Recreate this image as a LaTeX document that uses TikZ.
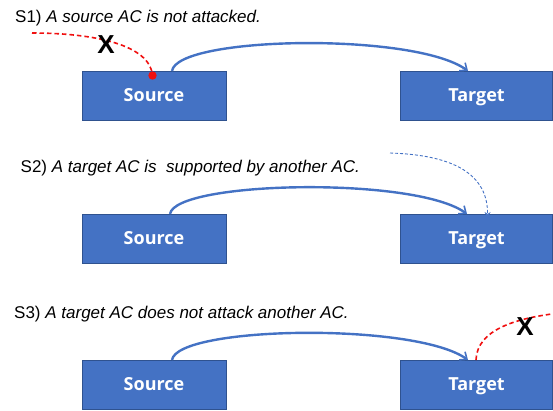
\documentclass[tikz,border=0pt]{standalone}
\usepackage{fontspec}
\setmainfont{Liberation Sans}
\newfontfamily\boxfont{Open Sans}
\usetikzlibrary{arrows.meta}
\definecolor{boxblue}{HTML}{4472C4}
\definecolor{boxedge}{HTML}{2F528F}
\definecolor{attred}{HTML}{F01010}
\tikzset{
  acbox/.style={draw=boxedge, line width=0.8pt, fill=boxblue, text=white, font=\boxfont\bfseries\fontsize{18}{21}\selectfont, minimum height=49pt, inner sep=0pt, text height=13pt, text depth=2pt},
  srcbox/.style={acbox, minimum width=144pt},
  tgtbox/.style={acbox, minimum width=152pt},
  rel/.style={draw=boxblue, line width=2.4pt, -{Straight Barb[length=6pt,width=10pt,line width=1.6pt]}},
  support/.style={draw=boxblue, line width=0.9pt, dash pattern=on 3pt off 2pt, -{Stealth[length=6pt,width=6pt]}},
  attack/.style={draw=attred, line width=1.6pt, dash pattern=on 4.5pt off 3pt},
  cross/.style={font=\bfseries\fontsize{26}{28}\selectfont, inner sep=0pt},
  caption/.style={font=\fontsize{17}{20}\selectfont, anchor=base west, inner sep=0pt}
}
\begin{document}
\begin{tikzpicture}[x=1pt,y=-1pt]
\useasboundingbox (0,0) rectangle (553,410);
\clip (0,0) rectangle (553,410);
% S1
\node[caption] (t1) at (15,22) {S1) \textit{A source AC is not attacked.}};
\node[srcbox] (s1) at (154,95.5) {Source};
\node[tgtbox] (g1) at (476.5,95.5) {Target};
\coordinate (s1o) at (172,71);
\coordinate (g1i) at (468,71);
\draw[rel] (s1o) .. controls (177,36) and (415,32) .. (g1i);
\coordinate (a1s) at (32,33);
\coordinate (a1e) at (152.5,75.5);
\draw[attack] (a1s) .. controls (95,33) and (150,45) .. (a1e);
\fill[attred] (a1e) circle (4.2pt);
\node[cross] (x1) at (106,45) {X};
% S2
\node[caption] (t2) at (20.5,172) {S2) \textit{A target AC is\ \ supported by another AC.}};
\node[srcbox] (s2) at (154,238.5) {Source};
\node[tgtbox] (g2) at (476.5,238.5) {Target};
\coordinate (s2o) at (170,214);
\coordinate (g2i) at (467,214);
\draw[rel] (s2o) .. controls (175,181) and (415,176) .. (g2i);
\coordinate (b2s) at (390,153);
\coordinate (b2e) at (487.5,218);
\draw[support] (b2s) .. controls (455,155) and (488,175) .. (b2e);
% S3
\node[caption] (t3) at (14,318) {S3) \textit{A target AC does not attack another AC.}};
\node[srcbox] (s3) at (154,384.5) {Source};
\node[tgtbox] (g3) at (476.5,384.5) {Target};
\coordinate (s3o) at (172,360);
\coordinate (g3i) at (468,360);
\draw[rel] (s3o) .. controls (177,326) and (415,322) .. (g3i);
\coordinate (a3s) at (476,360);
\coordinate (a3e) at (560,313);
\draw[attack] (a3s) .. controls (477,330) and (515,318) .. (a3e);
\node[cross] (x3) at (525,327) {X};
\end{tikzpicture}
\end{document}
